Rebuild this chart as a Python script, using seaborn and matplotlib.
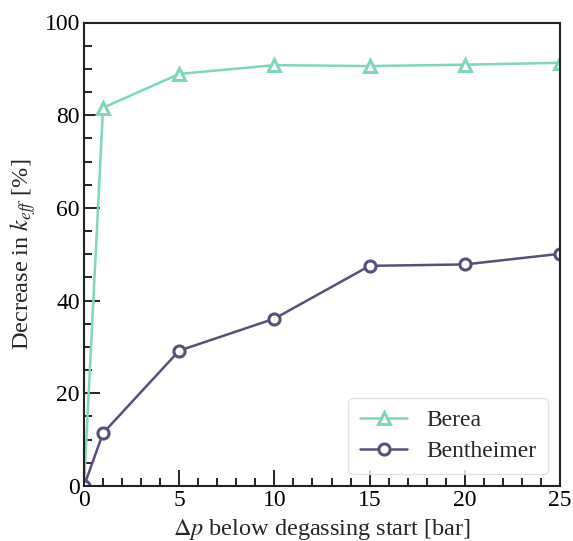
import matplotlib
matplotlib.use("Agg")
import matplotlib.pyplot as plt
import seaborn as sns
import pandas as pd
from matplotlib.ticker import MultipleLocator

pressure = [0, 1, 5, 10, 15, 20, 25]
berea = [0, 81.6, 88.9, 90.8, 90.6, 90.9, 91.3]
bentheimer = [0, 11.4, 29.2, 36.1, 47.5, 47.8, 50.1]
series_names = ["Berea", "Bentheimer"]
colors = ["#7fd6b8", "#5a5077"]
markers = ["^", "o"]

sns.set_theme(style="white")
plt.rcParams["font.family"] = ["Liberation Serif", "DejaVu Serif"]
plt.rcParams["mathtext.fontset"] = "stix"

df = pd.concat([
    pd.DataFrame({"dp": pressure, "val": berea, "rock": series_names[0]}),
    pd.DataFrame({"dp": pressure, "val": bentheimer, "rock": series_names[1]}),
])

fig = plt.figure(figsize=(5.73, 5.41), dpi=100)
ax = fig.add_axes([84/573, 1-486/541, (560-84)/573, (486-22.5)/541])

for name, c, m in zip(series_names, colors, markers):
    sub = df[df["rock"] == name]
    sns.lineplot(data=sub, x="dp", y="val", ax=ax, color=c, marker=m,
                 markersize=8, markerfacecolor="white", markeredgecolor=c,
                 markeredgewidth=2.2, linewidth=1.8, label=name)

ax.set_xlim(0, 25)
ax.set_ylim(0, 100)
ax.xaxis.set_major_locator(MultipleLocator(5))
ax.xaxis.set_minor_locator(MultipleLocator(1))
ax.yaxis.set_major_locator(MultipleLocator(20))
ax.yaxis.set_minor_locator(MultipleLocator(5))
ax.tick_params(which="both", direction="in", top=False, right=False,
               colors="black", labelsize=17)
ax.tick_params(which="major", length=11.5, width=1.2, bottom=True, left=True, pad=3)
ax.tick_params(which="minor", length=6, width=1.2, bottom=True, left=True)
for s in ax.spines.values():
    s.set_color("#222222")
    s.set_linewidth(1.5)

ax.set_xlabel(r"$\Delta p$ below degassing start [bar]", fontsize=17.5, labelpad=4)
ax.set_ylabel(r"Decrease in $k_{eff}$ [%]", fontsize=17.5, labelpad=5)

leg = ax.legend(loc="lower right", fontsize=17, frameon=True, handlelength=2.0,
                borderpad=0.5, labelspacing=0.4)
leg.get_frame().set_edgecolor("#dddddd")

fig.savefig("out.png", dpi=100)
